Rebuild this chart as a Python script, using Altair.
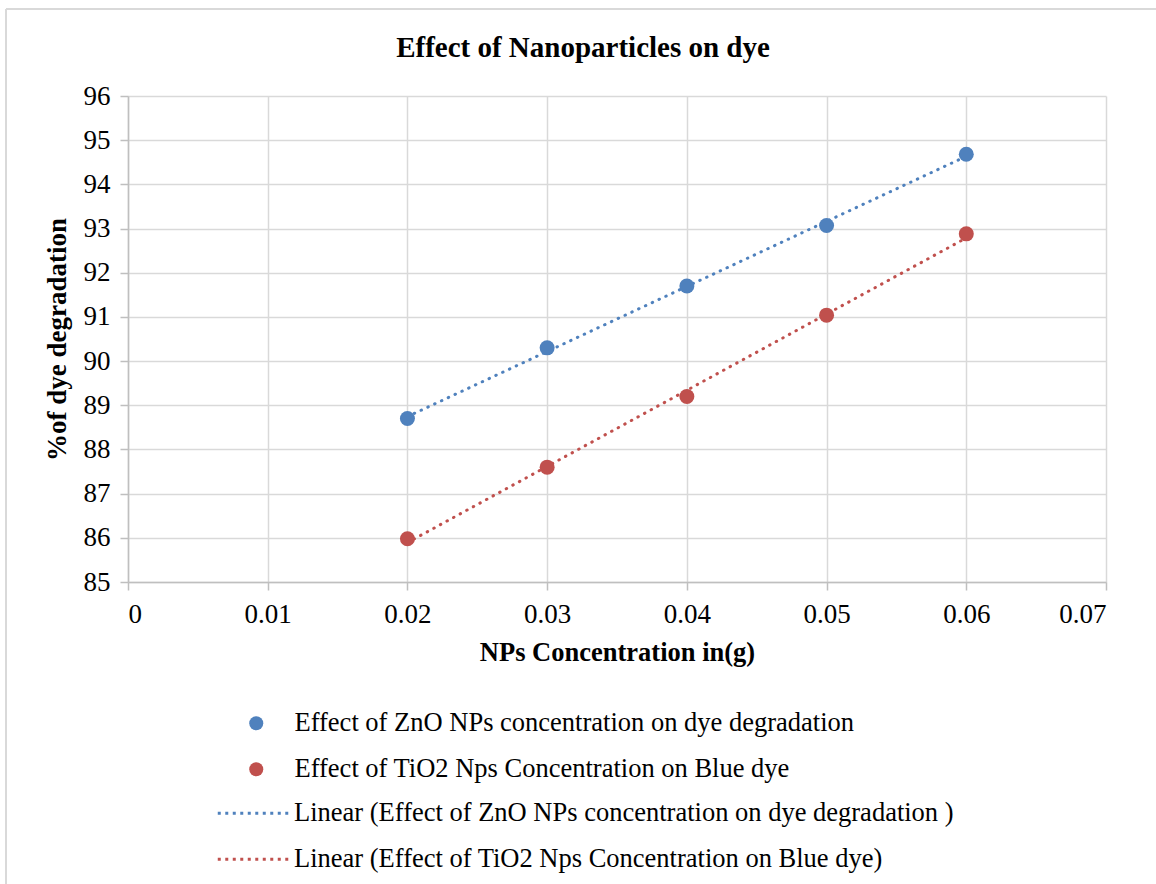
import altair as alt
import pandas as pd

# NPs concentration (g) and % dye degradation for each nanoparticle
concentration = [0.02, 0.03, 0.04, 0.05, 0.06]
zno_degradation = [88.7, 90.3, 91.7, 93.07, 94.68]
tio2_degradation = [85.98, 87.6, 89.2, 91.04, 92.88]

series_names = [
    "Effect of ZnO NPs concentration on dye degradation",
    "Effect of TiO2 Nps Concentration on Blue dye",
]
trend_names = [
    "Linear (Effect of ZnO NPs concentration on dye degradation )",
    "Linear (Effect of TiO2 Nps Concentration on Blue dye)",
]
colors = ["#4F81BD", "#C0504D"]

x_ticks = [0, 0.01, 0.02, 0.03, 0.04, 0.05, 0.06, 0.07]
y_ticks = list(range(85, 97))

rows = []
for values, name, trend in zip([zno_degradation, tio2_degradation], series_names, trend_names):
    for c, v in zip(concentration, values):
        rows.append({"conc": c, "deg": v, "series": name, "trend": trend})
df = pd.DataFrame(rows)

FONT = "Liberation Serif"

x_enc = alt.X(
    "conc:Q",
    scale=alt.Scale(domain=[0, 0.07], nice=False, zero=False),
    axis=alt.Axis(
        values=x_ticks, format="~g", title="NPs Concentration in(g)",
        titleFont=FONT, labelFont=FONT,
        titleFontSize=26.5, titleFontWeight="bold", titlePadding=12,
        labelFontSize=27, labelPadding=11, tickSize=8,
    ),
)
y_enc = alt.Y(
    "deg:Q",
    scale=alt.Scale(domain=[85, 96], nice=False, zero=False),
    axis=alt.Axis(
        values=y_ticks, title="%of dye degradation",
        titleFont=FONT, labelFont=FONT,
        titleFontSize=27, titleFontWeight="bold", titlePadding=12,
        labelFontSize=27, labelPadding=10, tickSize=8,
    ),
)

points = alt.Chart(df).mark_circle(size=225, opacity=1).encode(
    x=x_enc,
    y=y_enc,
    color=alt.Color(
        "series:N",
        scale=alt.Scale(domain=series_names, range=colors),
        legend=alt.Legend(
            title=None, orient="none", legendX=115, legendY=614,
            direction="vertical", symbolType="circle", symbolSize=196,
            symbolOpacity=1, labelFont=FONT, labelFontSize=26.5, labelOffset=25,
            rowPadding=19, padding=0, labelLimit=900,
        ),
    ),
)

# wide dotted-line swatch: a short custom path that draws ~73 px long
trend_symbol = "M-5,0H5"

trends = alt.Chart(df).transform_regression(
    "conc", "deg", groupby=["series", "trend"], method="linear", extent=[0.02, 0.06]
).mark_line(strokeWidth=3, strokeDash=[0.5, 7], strokeCap="round").encode(
    x="conc:Q",
    y="deg:Q",
    color=alt.Color(
        "trend:N",
        scale=alt.Scale(domain=trend_names, range=colors),
        legend=alt.Legend(
            title=None, orient="none", legendX=113, legendY=704,
            direction="vertical", symbolType=trend_symbol, symbolSize=213,
            symbolStrokeWidth=3, symbolDash=[3, 4.5], symbolOpacity=1,
            symbolFillColor="transparent",
            labelFont=FONT, labelFontSize=26.5, labelOffset=26.5,
            rowPadding=19, padding=0, labelLimit=900,
        ),
    ),
)

# light outline around the chart area
frame_top = alt.Chart(df).mark_rule(color="#D9D9D9", strokeWidth=2).encode(
    x=alt.value(-122), x2=alt.value(1028), y=alt.value(-87)
)
frame_left = alt.Chart(df).mark_rule(color="#D9D9D9", strokeWidth=2).encode(
    x=alt.value(-122), y=alt.value(-87), y2=alt.value(790)
)

chart = alt.layer(frame_top, frame_left, trends, points).resolve_scale(
    color="independent"
).properties(
    width=978,
    height=486,
    title=alt.TitleParams(
        "Effect of Nanoparticles on dye", fontSize=29, fontWeight="bold",
        font=FONT, anchor="middle", dx=-34, offset=-78, baseline="alphabetic",
        color="#000000",
    ),
    autosize=alt.AutoSizeParams(type="none"),
    padding={"left": 128, "top": 96, "right": 50, "bottom": 302},
).configure(
    font=FONT, background="white",
).configure_view(
    stroke=None,
).configure_axis(
    labelFont=FONT, titleFont=FONT, labelColor="#000000", titleColor="#000000",
    gridColor="#D9D9D9", gridWidth=1.5, domainColor="#BFBFBF", domainWidth=1.5,
    tickColor="#BFBFBF", tickWidth=1.5,
).configure_legend(
    labelFont=FONT, labelColor="#000000",
)

chart.save("out.html", embed_options={"renderer": "svg", "actions": False})
